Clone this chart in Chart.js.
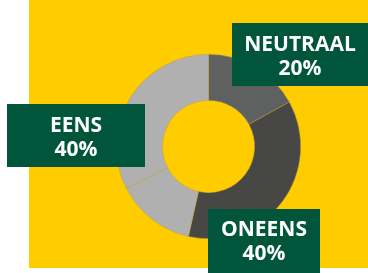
<!DOCTYPE html>
<html>
<head>
<meta charset="utf-8">
<script src="https://cdn.jsdelivr.net/npm/chart.js@4"></script>
<style>
  html, body { margin: 0; padding: 0; background: #ffffff; }
  #chart-container { width: 368px; height: 273px; position: relative; }
</style>
</head>
<body>
<div id="chart-container"><canvas id="myChart"></canvas></div>
<script>
// slices as drawn (the left grey part is split in two pieces)
var sliceLabels = ['NEUTRAAL', 'ONEENS', 'EENS', 'EENS']
var sliceValues = [17, 36.5, 14, 32.5]
var sliceColors = ['#5f6160', '#474745', '#b0b0b0', '#b0b0b0']

// callout boxes
var calloutNames = ['NEUTRAAL', 'EENS', 'ONEENS']
var calloutPercents = ['20%', '40%', '40%']

// box rects x, y, w, h and text baselines
var calloutBoxes = [
    [232, 23, 140, 63],
    [7, 104, 138, 63],
    [208, 209, 112, 70]
]
var calloutBaselines = [[51, 75], [132, 156], [236, 260]]

var backgroundPlugin = {
    id: 'yellowBackground',
    beforeDraw: function (chart) {
        var ctx = chart.ctx
        ctx.save()
        ctx.fillStyle = '#ffcc00'
        ctx.fillRect(29, 0, 339, 268)
        ctx.restore()
    }
}

var calloutPlugin = {
    id: 'callouts',
    afterDatasetsDraw: function (chart) {
        var ctx = chart.ctx
        ctx.save()
        for (var i = 0; i < calloutNames.length; i++) {
            var b = calloutBoxes[i]
            ctx.fillStyle = '#00553b'
            ctx.fillRect(b[0], b[1], b[2], b[3])
            var cx = i == 0 ? 300 : (i == 1 ? 76 : 264)
            ctx.fillStyle = '#ffffff'
            ctx.font = 'bold 21px "Open Sans"'
            ctx.textAlign = 'center'
            ctx.textBaseline = 'alphabetic'
            ctx.fillText(calloutNames[i], cx, calloutBaselines[i][0])
            ctx.fillText(calloutPercents[i], cx, calloutBaselines[i][1])
        }
        ctx.restore()
    }
}

const ctx = document.getElementById('myChart')
const myChart = new Chart(ctx, {
    type: 'doughnut',
    data: {
        labels: sliceLabels,
        datasets: [{
            data: sliceValues,
            backgroundColor: sliceColors,
            borderColor: 'rgba(190, 160, 60, 0.8)',
            borderWidth: 0.6,
            hoverOffset: 0
        }]
    },
    options: {
        responsive: true,
        maintainAspectRatio: false,
        animation: false,
        cutout: '50%',
        layout: {
            padding: { top: 54, bottom: 34, left: 116, right: 67 }
        },
        plugins: {
            legend: { display: false },
            tooltip: { enabled: false }
        }
    },
    plugins: [backgroundPlugin, calloutPlugin]
});
</script>
</body>
</html>
